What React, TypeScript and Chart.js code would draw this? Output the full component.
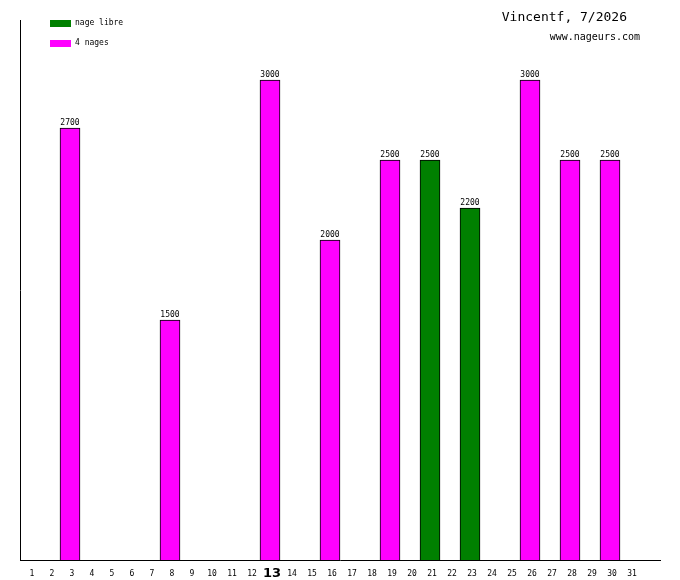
import { useEffect, useRef } from 'react'
import { Chart, registerables } from 'chart.js'

Chart.register(...registerables)

// days of the month (last slot left empty, like the original)
const days: string[] = [
  '1', '2', '3', '4', '5', '6', '7', '8', '9', '10', '11', '12', '13', '14', '15', '16',
  '17', '18', '19', '20', '21', '22', '23', '24', '25', '26', '27', '28', '29', '30', '31', ''
]
const highlightDay = '13'

const nageLibre: (number | null)[] = [
  null, null, null, null, null, null, null, null, null, null, null, null, null, null, null, null,
  null, null, null, null, 2500, null, 2200, null, null, null, null, null, null, null, null, null
]
const quatreNages: (number | null)[] = [
  null, null, 2700, null, null, null, null, 1500, null, null, null, null, 3000, null, null, 2000,
  null, null, 2500, null, null, null, null, null, null, 3000, null, 2500, null, 2500, null, null
]

const seriesLabels = ['nage libre', '4 nages']
const seriesColors = ['#008000', '#ff00ff']
const titleText = 'Vincentf, 7/2026'
const siteText = 'www.nageurs.com'
const yMax = 3375

const mono = '"DejaVu Sans Mono", monospace'

const extrasPlugin = {
  id: 'extras',
  afterDatasetsDraw(chart: Chart) {
    const ctx = chart.ctx
    ctx.save()
    // value labels above bars
    ctx.font = `8px ${mono}`
    ctx.fillStyle = '#000'
    ctx.textAlign = 'center'
    ctx.textBaseline = 'bottom'
    chart.data.datasets.forEach((ds, i) => {
      const meta = chart.getDatasetMeta(i)
      meta.data.forEach((el: any, j) => {
        const v = ds.data[j] as number | null
        if (v == null) return
        ctx.fillText(String(v), el.x, el.y - 1)
      })
    })

    // legend
    ctx.textAlign = 'left'
    ctx.textBaseline = 'middle'
    seriesLabels.forEach((label, i) => {
      const y = 20 + i * 20
      ctx.fillStyle = seriesColors[i]
      ctx.fillRect(50, y, 21, 7)
      ctx.fillStyle = '#000'
      ctx.font = `8px ${mono}`
      ctx.fillText(label, 75, y + 3)
    })

    // title
    ctx.textAlign = 'right'
    ctx.font = `13px ${mono}`
    ctx.fillText(titleText, 627, 18)
    ctx.font = `10px ${mono}`
    ctx.fillText(siteText, 640, 37)
    ctx.restore()
  }
}

const App = () => {
  const canvasRef = useRef<HTMLCanvasElement>(null)
  const chartRef = useRef<Chart | null>(null)

  useEffect(() => {
    document.body.style.margin = '0'
    if (!canvasRef.current) return
    if (chartRef.current) chartRef.current.destroy()

    chartRef.current = new Chart(canvasRef.current, {
      type: 'bar',
      data: {
        labels: days,
        datasets: [
          {
            label: seriesLabels[0],
            data: nageLibre,
            backgroundColor: seriesColors[0],
            borderColor: '#000',
            borderWidth: 1
          },
          {
            label: seriesLabels[1],
            data: quatreNages,
            backgroundColor: seriesColors[1],
            borderColor: '#000',
            borderWidth: 1
          }
        ]
      },
      options: {
        responsive: false,
        animation: false,
        devicePixelRatio: 1,
        layout: { padding: { left: 20, right: 20, top: 20, bottom: 0 } },
        datasets: { bar: { barPercentage: 1, categoryPercentage: 1 } },
        plugins: {
          legend: { display: false },
          tooltip: { enabled: false }
        },
        scales: {
          x: {
            stacked: true,
            grid: { display: false, drawTicks: false },
            border: { display: true, color: '#000', width: 1 },
            afterFit: (scale: any) => {
              scale.height = 20
            },
            ticks: {
              color: '#000',
              padding: 9,
              labelOffset: 2,
              maxRotation: 0,
              autoSkip: false,
              font: (c: any) =>
                days[c.index] === highlightDay
                  ? { family: '"DejaVu Sans", sans-serif', size: 13, weight: 'bold', lineHeight: 0.74 }
                  : { family: mono, size: 8 }
            }
          },
          y: {
            stacked: true,
            min: 0,
            max: yMax,
            grid: { display: false, drawTicks: false },
            border: { display: true, color: '#000', width: 1 },
            ticks: { display: false }
          }
        }
      },
      plugins: [extrasPlugin]
    })

    return () => {
      if (chartRef.current) {
        chartRef.current.destroy()
        chartRef.current = null
      }
    }
  }, [])

  return (
    <div style={{ width: 680, height: 580, background: '#fff' }}>
      <canvas ref={canvasRef} width={680} height={580}></canvas>
    </div>
  )
}

export default App
